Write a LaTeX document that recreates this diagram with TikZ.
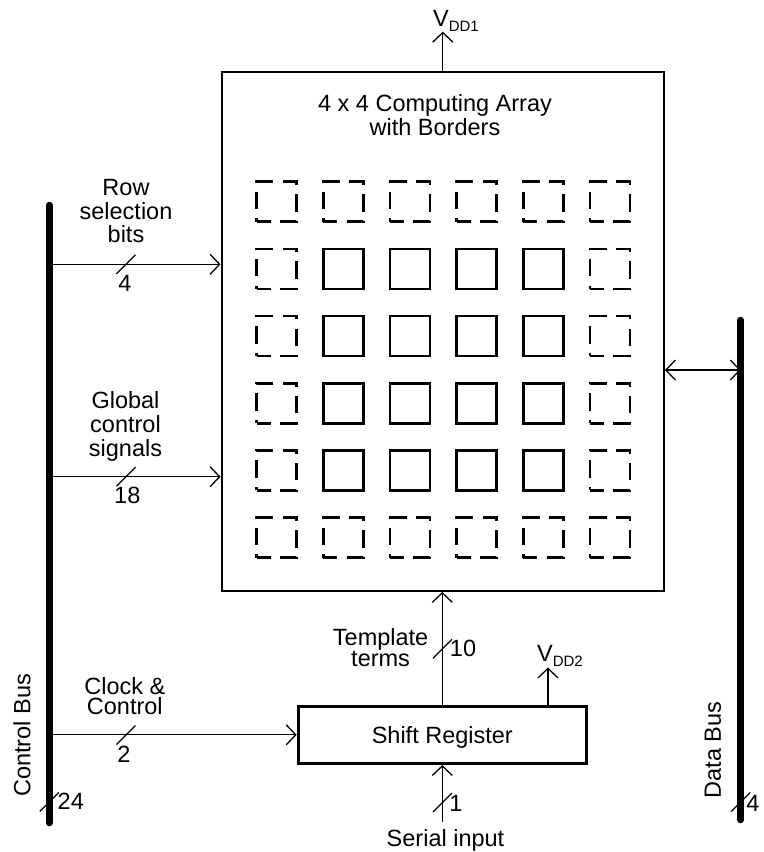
\documentclass[tikz,border=0pt]{standalone}
\usepackage{fontspec}
\setmainfont{Liberation Sans}
\usepackage{tikz}
\usetikzlibrary{arrows.meta,positioning,calc}

\begin{document}
\begin{tikzpicture}[x=0.5pt, y=-0.5pt,
    box/.style={rectangle, draw, line width=#1, inner sep=0pt, font=\fontsize{11.75}{12}\selectfont},
    box/.default=1pt,
    cell/.style={rectangle, draw, line width=1.35pt, minimum width=20pt, minimum height=20pt, inner sep=0pt},
    bcell/.style={cell, dash pattern=on 8.75pt off 4.6pt, dash phase=1.75pt},
    arr/.style={-{Straight Barb[length=4.75pt, width=10pt]}, line width=0.65pt},
    darr/.style={{Straight Barb[length=4.75pt, width=10pt]}-{Straight Barb[length=4.75pt, width=10pt]}, line width=0.65pt},
    bus/.style={line width=3.25pt, line cap=round},
    tick/.style={line width=0.65pt},
    lbl/.style={font=\fontsize{11.75}{#1}\selectfont, align=center, inner sep=0pt},
    lbl/.default=12pt
]
\useasboundingbox (0,0) rectangle (764,852);

% Computing array with its cells
\node[box, minimum width=221.25pt, minimum height=259.65pt] (array) at (442.75,331.3) {};
\node[lbl=11.65pt] (title) at (435,115) {4 x 4 Computing Array\\with Borders};

\foreach \i in {0,...,5} {
    \node[bcell] (c-\i-0) at ({276.7+66.66*\i},201.7) {};
    \node[bcell] (c-\i-5) at ({276.7+66.66*\i},537.5) {};
}
\foreach \j in {1,...,4} {
    \node[bcell] (c-0-\j) at (276.7,{201.7+67.16*\j}) {};
    \node[bcell] (c-5-\j) at (610,{201.7+67.16*\j}) {};
}
\foreach \i in {1,...,4}
    \foreach \j in {1,...,4}
        \node[cell] (c-\i-\j) at ({276.7+66.66*\i},{201.7+67.16*\j}) {};

% Shift register
\node[box=1.5pt, minimum width=144.15pt, minimum height=28.75pt, text depth=0pt] (sr) at (442.3,734.8) {Shift Register};

% Buses
\coordinate (cbtop) at (49.3,205);
\coordinate (cbbot) at (49.3,823);
\coordinate (dbtop) at (740.7,320);
\coordinate (dbbot) at (740.7,820);
\draw[bus] (cbtop) -- (cbbot);
\draw[bus] (dbtop) -- (dbbot);
\node[lbl, rotate=90] (cblbl) at (22,735.3) {Control Bus};
\node[lbl, rotate=90] (dblbl) at (713,750) {Data Bus};

% Supplies
\node[lbl] (vdd1) at (456,20.7) {V\raisebox{-2.5pt}{\fontsize{7.5}{7.5}\selectfont DD1}};
\node[lbl] (vdd2) at (560,656) {V\raisebox{-2.5pt}{\fontsize{7.5}{7.5}\selectfont DD2}};
\coordinate (vdd2tip) at (548,667.5);
\draw[arr] (array.north) -- (array.north |- vdd1.south);
\draw[arr] (sr.north -| vdd2tip) -- (vdd2tip);

% Signals from the control bus
\coordinate (rowsel) at (49.3,264.3);
\coordinate (glob) at (49.3,476.7);
\coordinate (clk) at (49.3,734.8);
\draw[arr] (rowsel) -- (rowsel -| array.west);
\draw[arr] (glob) -- (glob -| array.west);
\draw[arr] (clk) -- (sr.west);
\node[lbl=11.85pt] (rowlbl) at (126,211.2) {Row\\selection\\bits};
\node[lbl] (globlbl) at (125.5,426) {Global\\control\\signals};
\node[lbl=10.4pt] (clklbl) at (124.8,696) {Clock \&\\Control};

% Template terms and serial input
\coordinate (serin) at (442.3,822);
\draw[arr] (sr.north) -- (sr.north |- array.south);
\draw[arr] (serin) -- (sr.south);
\node[lbl=10.5pt] (tpllbl) at (380.6,648) {Template\\terms};
\node[lbl] (serlbl) at (445.5,840.5) {Serial input};

% Data bus link
\coordinate (dlink) at (740.7,370);
\draw[darr] (dlink -| array.east) -- (dlink);

% Bus widths
\foreach \x/\y in {126/264.3, 126/476.7, 126/735, 442.5/648.8, 442.5/802.5, 49.3/802, 740.7/802}
    \draw[tick] (\x,\y) ++(-9.5,9.5) -- ++(19,-19);
\node[lbl] (w-row) at (125,283) {4};
\node[lbl] (w-glob) at (127.3,495.5) {18};
\node[lbl] (w-clk) at (124,754) {2};
\node[lbl] (w-tpl) at (463,648.5) {10};
\node[lbl] (w-ser) at (456,803) {1};
\node[lbl] (w-cb) at (70.8,801.7) {24};
\node[lbl] (w-db) at (753,803) {4};

\end{tikzpicture}
\end{document}
